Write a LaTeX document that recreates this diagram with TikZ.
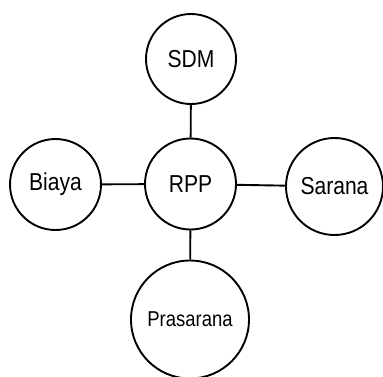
\documentclass[tikz,border=0pt]{standalone}
\usepackage{fontspec}
\setmainfont[FakeStretch=0.86]{Liberation Sans}
\begin{document}
\begin{tikzpicture}[x=1pt,y=-1pt,
  topic/.style={circle, draw=black, line width=1.9pt, inner sep=0pt, fill=white,
    font=\fontsize{24.5}{28}\selectfont},
  link/.style={line width=1.9pt, draw=black}]
  \useasboundingbox (0,0) rectangle (383,376);
  \node[topic, minimum size=91pt] (rpp) at (190.5,184) {RPP};
  \node[topic, minimum size=90pt] (sdm) at (191,59) {SDM};
  \node[topic, minimum size=91pt] (biaya) at (55.5,184.5) {Biaya};
  \node[topic, minimum size=97pt] (sarana) at (334.5,186.5) {Sarana};
  \node[topic, minimum size=118pt, font=\fontsize{21.5}{25}\selectfont] (pras) at (190,319.5) {Prasarana};
  \draw[link] (sdm) -- (rpp);
  \draw[link] (biaya) -- (rpp);
  \draw[link] (rpp) -- (sarana);
  \draw[link] (rpp) -- (pras);
\end{tikzpicture}
\end{document}
